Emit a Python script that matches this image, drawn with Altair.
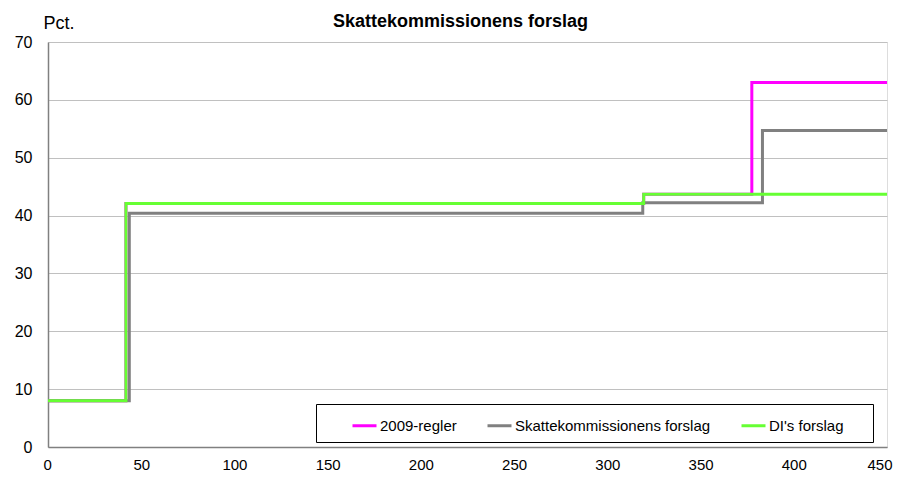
import altair as alt
import pandas as pd

# Income (1000 kr.) breakpoints and marginal tax rates (pct.)
series_names = ["2009-regler", "Skattekommissionens forslag", "DI's forslag"]
colors = ["#FF00FF", "#808080", "#66FF33"]

x_2009 = [0, 41.8, 319.5, 377.5, 450]
y_2009 = [8.0, 42.1, 43.7, 63.0, 63.0]

x_sk = [0, 43.6, 319, 383.2, 450]
y_sk = [8.0, 40.4, 42.2, 54.7, 54.7]

x_di = [0, 41.8, 319.5, 450]
y_di = [8.0, 42.1, 43.7, 43.7]

rows = []
for name, xs, ys in zip(series_names, [x_2009, x_sk, x_di], [y_2009, y_sk, y_di]):
    for i, (a, b) in enumerate(zip(xs, ys)):
        rows.append({"serie": name, "indkomst": a, "sats": b, "i": i})
df = pd.DataFrame(rows)

FONT = "Liberation Sans"

color_scale = alt.Scale(domain=series_names, range=colors)

def layer(name):
    return (
        alt.Chart(df)
        .transform_filter(alt.datum.serie == name)
        .mark_line(interpolate="step-after", strokeWidth=3, clip=True)
        .encode(
            x=alt.X(
                "indkomst:Q",
                scale=alt.Scale(domain=[0, 450], nice=False),
                axis=alt.Axis(
                    values=list(range(0, 451, 50)),
                    title=None,
                    grid=False,
                    ticks=False,
                    labelFlush=True,
                    labelFlushOffset=5,
                    labelPadding=10,
                    domainColor="#808080",
                    domainWidth=1.5,
                    labelFontSize=15,
                    labelFont=FONT,
                    labelColor="black",
                ),
            ),
            y=alt.Y(
                "sats:Q",
                scale=alt.Scale(domain=[0, 70], nice=False),
                axis=alt.Axis(
                    values=list(range(0, 71, 10)),
                    title="Pct.",
                    titleAngle=0,
                    titleAlign="left",
                    titleBaseline="alphabetic",
                    titleX=-5,
                    titleY=-14,
                    titleFontSize=18,
                    titleFontWeight="normal",
                    titleFont=FONT,
                    titleColor="black",
                    grid=True,
                    gridColor="#C0C0C0",
                    gridWidth=1,
                    ticks=False,
                    labelFlush=False,
                    labelPadding=16,
                    domainColor="#808080",
                    domainWidth=1.5,
                    labelFontSize=16,
                    labelFont=FONT,
                    labelColor="black",
                ),
            ),
            color=alt.Color(
                "serie:N",
                scale=color_scale,
                legend=alt.Legend(
                    title=" ",
                    titleOrient="right",
                    titlePadding=21,
                    titleFontSize=6,
                    orient="none",
                    legendX=268,
                    legendY=362,
                    direction="horizontal",
                    symbolType="stroke",
                    symbolSize=576,
                    symbolStrokeWidth=3,
                    symbolOffset=27,
                    labelOffset=2,
                    labelLimit=400,
                    columnPadding=2,
                    padding=8,
                    labelFontSize=15,
                    labelFont=FONT,
                    labelColor="black",
                    strokeColor="black",
                    fillColor="white",
                ),
            ),
            order="i:Q",
        )
    )

chart = (
    alt.layer(*[layer(n) for n in series_names])
    .properties(
        width=839,
        height=405,
        autosize=alt.AutoSizeParams(type="none"),
        padding={"left": 40, "top": 34, "right": 10, "bottom": 28},
        title=alt.TitleParams(
            "Skattekommissionens forslag",
            anchor="middle",
            frame="group",
            fontSize=18,
            fontWeight="bold",
            font=FONT,
            color="black",
            baseline="alphabetic",
            offset=0,
            dy=31,
            dx=-7,
        ),
    )
    .configure_view(stroke="#C0C0C0", strokeWidth=1.5)
    .configure(background="white")
)

chart.save("out.html", embed_options={"renderer": "svg", "actions": False})
